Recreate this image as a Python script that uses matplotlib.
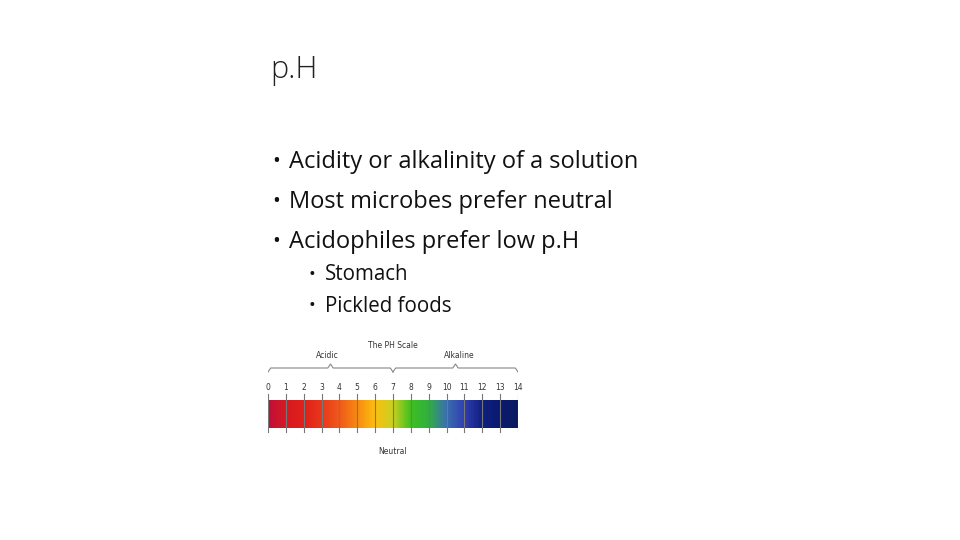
import matplotlib
matplotlib.use("Agg")
import matplotlib.pyplot as plt
import numpy as np
from matplotlib.colors import LinearSegmentedColormap

title = "p.H"
bullets = ["Acidity or alkalinity of a solution", "Most microbes prefer neutral", "Acidophiles prefer low p.H"]
sub_bullets = ["Stomach", "Pickled foods"]
ph_values = list(range(15))
ph_colors = ["#c0103a", "#d81a20", "#e0201a", "#e8381a", "#f05a1a", "#f88a10", "#fcc010",
             "#c8d020", "#40c020", "#30b040", "#3a70b0", "#3040b0", "#102080", "#0a1a70", "#0a1a60"]

fig = plt.figure(figsize=(9.6, 5.4), dpi=100)
fig.patch.set_facecolor("white")
W, H = 960, 540
fam = ["Open Sans", "DejaVu Sans"]
fig.text(270/W, 1-70/H, title, fontsize=22, family=fam, fontweight="light", va="center", color="#222")
for i, b in enumerate(bullets):
    y = 162 + i*40
    fig.text(272/W, 1-y/H, "•", fontsize=15, family=fam, va="center", color="#111")
    fig.text(289/W, 1-y/H, b, fontsize=17, family=fam, va="center", color="#111")
for i, b in enumerate(sub_bullets):
    y = 275 + i*31
    fig.text(308/W, 1-y/H, "•", fontsize=13, family=fam, va="center", color="#111")
    fig.text(325/W, 1-y/H, b, fontsize=14.8, family=fam, va="center", color="#111")

# pH scale axes: spans pixels x 268-518, y 340-460
ax = fig.add_axes([268/W, 1-460/H, 250/W, 120/H])
ax.set_xlim(0, 14)
ax.set_ylim(0, 120)
ax.axis("off")
cmap = LinearSegmentedColormap.from_list("ph", ph_colors)
grad = np.linspace(0, 1, 300).reshape(1, -1)
ax.imshow(grad, cmap=cmap, aspect="auto", extent=(0, 14, 32, 60), zorder=1)
for v in ph_values:
    ax.plot([v, v], [28, 66], color="#777", lw=0.8, zorder=2)
    ax.text(v, 72, str(v), ha="center", va="center", fontsize=5.5, color="#333")
ax.text(7, 114, "The PH Scale", ha="center", va="center", fontsize=5.5, color="#333")
ax.text(3.3, 105, "Acidic", ha="center", va="center", fontsize=5.5, color="#333")
ax.text(10.7, 104, "Alkaline", ha="center", va="center", fontsize=5.5, color="#333")
ax.text(7, 8, "Neutral", ha="center", va="center", fontsize=5.5, color="#333")
def brace(x0, x1, y):
    xm = (x0+x1)/2
    ax.plot([x0, x0+0.15, xm-0.15, xm, xm+0.15, x1-0.15, x1],
            [y-4, y, y, y+4, y, y, y-4], color="#888", lw=0.8)
brace(0, 7, 92)
brace(7, 14, 92)
fig.savefig("out.png", dpi=100)
